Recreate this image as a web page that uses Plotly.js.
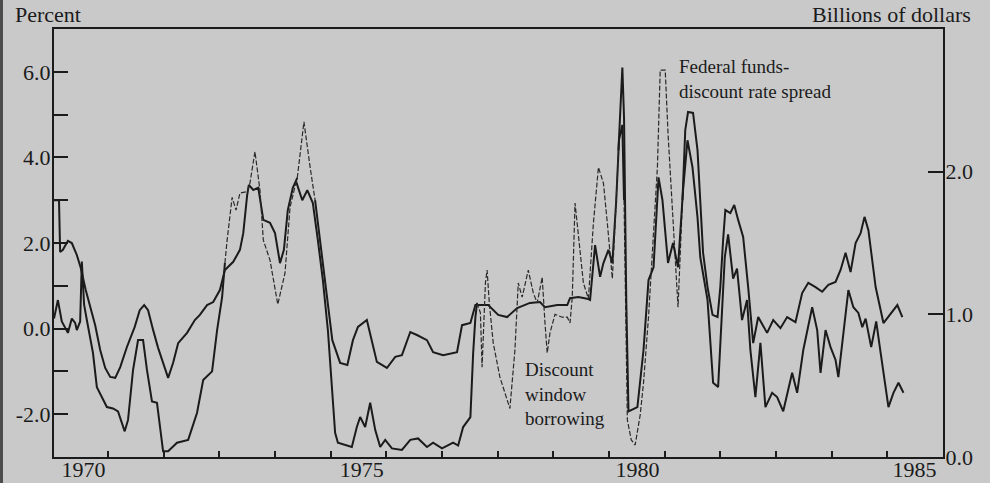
<!DOCTYPE html>
<html><head><meta charset="utf-8">
<script src="https://cdn.plot.ly/plotly-3.0.1.min.js"></script>
<style>html,body{margin:0;padding:0;background:#c9c9c9;} #chart{width:990px;height:483px;}</style>
</head><body><div id="chart"></div>
<script>
// Federal funds - discount rate spread (percent, left axis)
const spreadYears = [1970.03,1970.12,1970.14,1970.19,1970.28,1970.35,1970.44,1970.51,1970.60,1970.69,
1970.77,1970.86,1970.95,1971.04,1971.13,1971.22,1971.34,1971.48,1971.57,1971.65,
1971.72,1971.81,1971.90,1971.99,1972.08,1972.17,1972.26,1972.42,1972.56,1972.65,
1972.78,1972.89,1973.01,1973.10,1973.25,1973.37,1973.43,1973.50,1973.53,1973.61,
1973.70,1973.79,1973.91,1974.00,1974.09,1974.16,1974.23,1974.32,1974.40,1974.45,
1974.52,1974.63,1974.72,1974.81,1974.92,1975.03,1975.17,1975.30,1975.40,1975.49,
1975.65,1975.83,1976.01,1976.16,1976.28,1976.43,1976.55,1976.73,1976.84,1977.02,
1977.27,1977.36,1977.51,1977.60,1977.69,1977.83,1978.01,1978.17,1978.35,1978.58,
1978.76,1978.85,1979.07,1979.25,1979.30,1979.45,1979.63,1979.66,1979.75,1979.84,
1979.90,1979.99,1980.06,1980.13,1980.18,1980.24,1980.27,1980.33,1980.40,1980.47,
1980.56,1980.62,1980.71,1980.80,1980.87,1980.92,1981.01,1981.06,1981.14,1981.19,
1981.24,1981.32,1981.37,1981.42,1981.51,1981.59,1981.64,1981.69,1981.77,1981.86,
1981.95,1982.00,1982.05,1982.09,1982.18,1982.25,1982.32,1982.41,1982.50,1982.59,
1982.68,1982.84,1982.95,1983.08,1983.20,1983.35,1983.47,1983.58,1983.71,1983.83,
1983.94,1984.07,1984.16,1984.25,1984.34,1984.43,1984.52,1984.59,1984.66,1984.79,
1984.93,1985.06,1985.18,1985.27];
const spreadPct = [3.00,3.00,1.79,1.84,2.05,2.00,1.72,1.42,0.90,0.43,
0.08,-0.50,-0.92,-1.13,-1.15,-0.90,-0.43,0.04,0.43,0.55,
0.43,-0.03,-0.45,-0.80,-1.15,-0.80,-0.34,-0.10,0.20,0.32,
0.55,0.62,0.90,1.37,1.56,1.84,2.23,3.12,3.36,3.24,
3.29,2.54,2.47,2.23,1.53,1.84,2.77,3.29,3.52,4.13,
4.83,3.78,3.00,2.02,0.79,-0.27,-0.80,-0.85,-0.27,0.04,
0.20,-0.78,-0.92,-0.66,-0.62,-0.08,-0.15,-0.27,-0.55,-0.62,
-0.55,0.08,0.13,0.55,0.55,0.55,0.32,0.27,0.48,0.60,
0.62,0.50,0.55,0.55,0.71,0.74,0.69,0.67,1.95,1.21,
1.53,1.84,1.53,3.00,4.41,4.76,3.00,-2.14,-2.60,-2.72,
-2.02,-1.27,0.27,2.23,3.78,6.04,6.04,4.57,2.77,1.84,
0.50,3.00,4.64,5.06,5.04,4.17,3.00,1.77,0.97,0.32,
0.27,0.97,2.07,2.77,2.70,2.89,2.54,2.14,0.97,-0.34,
0.27,-0.10,0.20,0.01,0.27,0.15,0.83,1.07,0.97,0.86,
1.02,1.09,1.37,1.77,1.32,2.00,2.23,2.61,2.30,0.97,
0.13,0.36,0.55,0.27];

// Discount window borrowing (billions of dollars, right axis)
const borrowYears = [1970.03,1970.10,1970.17,1970.23,1970.28,1970.35,1970.41,1970.44,1970.50,1970.53,
1970.57,1970.62,1970.73,1970.80,1970.91,1970.98,1971.09,1971.18,1971.30,1971.36,
1971.45,1971.54,1971.63,1971.70,1971.79,1971.88,1971.99,1972.08,1972.24,1972.44,
1972.60,1972.71,1972.87,1972.92,1972.96,1973.05,1973.10,1973.14,1973.23,1973.30,
1973.37,1973.50,1973.55,1973.64,1973.73,1973.79,1973.91,1974.05,1974.18,1974.27,
1974.38,1974.49,1974.58,1974.68,1974.77,1974.86,1974.95,1975.03,1975.08,1975.13,
1975.30,1975.38,1975.47,1975.53,1975.62,1975.71,1975.80,1975.89,1975.98,1976.10,
1976.28,1976.43,1976.57,1976.73,1976.84,1977.00,1977.20,1977.29,1977.38,1977.51,
1977.56,1977.60,1977.63,1977.69,1977.72,1977.78,1977.81,1977.85,1977.92,1978.04,
1978.22,1978.31,1978.37,1978.44,1978.55,1978.64,1978.71,1978.80,1978.85,1978.89,
1978.94,1979.03,1979.16,1979.25,1979.30,1979.34,1979.39,1979.45,1979.54,1979.63,
1979.72,1979.81,1979.90,1979.97,1980.06,1980.11,1980.17,1980.24,1980.27,1980.31,
1980.35,1980.51,1980.62,1980.71,1980.80,1980.89,1980.96,1981.01,1981.06,1981.15,
1981.24,1981.33,1981.41,1981.50,1981.59,1981.64,1981.77,1981.87,1981.96,1982.08,
1982.14,1982.23,1982.30,1982.39,1982.48,1982.54,1982.63,1982.72,1982.81,1982.93,
1983.02,1983.13,1983.29,1983.38,1983.49,1983.65,1983.74,1983.80,1983.89,1983.98,
1984.07,1984.12,1984.21,1984.30,1984.39,1984.48,1984.55,1984.61,1984.71,1984.80,
1984.88,1985.02,1985.11,1985.20,1985.29];
const borrowBn = [0.97,1.10,0.95,0.91,0.87,0.97,0.94,0.89,0.95,1.37,
1.07,0.96,0.73,0.49,0.40,0.35,0.34,0.32,0.18,0.26,
0.61,0.82,0.82,0.61,0.39,0.38,0.04,0.04,0.10,0.12,
0.31,0.54,0.60,0.79,0.89,1.12,1.36,1.52,1.82,1.73,
1.85,1.86,1.92,2.14,1.87,1.52,1.38,1.07,1.29,1.75,
1.93,1.80,1.87,1.78,1.52,1.24,0.89,0.47,0.17,0.10,
0.08,0.07,0.21,0.28,0.21,0.38,0.19,0.07,0.12,0.06,
0.05,0.12,0.13,0.07,0.10,0.06,0.10,0.08,0.21,0.28,
0.73,0.98,1.08,1.01,0.63,1.22,1.31,1.08,0.80,0.56,
0.34,0.75,1.22,1.12,1.31,1.15,1.08,1.26,0.94,0.73,
0.87,1.00,0.98,0.98,0.94,1.12,1.78,1.54,1.22,1.11,
1.64,2.03,1.92,1.64,1.25,1.64,2.15,2.73,2.38,1.10,
0.32,0.35,0.75,1.24,1.33,1.96,1.80,1.57,1.36,1.50,
1.33,1.87,2.22,2.03,1.68,1.40,1.10,0.52,0.49,1.40,
1.56,1.25,1.32,0.96,1.10,0.75,0.42,0.80,0.35,0.45,
0.42,0.32,0.59,0.45,0.75,1.05,0.89,0.59,0.89,0.77,
0.68,0.56,0.87,1.17,1.05,1.01,0.91,0.97,0.77,0.95,
0.73,0.35,0.45,0.52,0.45];

const yearTicks = [1971,1972,1973,1974,1975,1976,1977,1978,1979,1980,1981,1982,1983,1984,1985];
const labelYears = [1970.56,1975.56,1980.51,1985.49];
const labelText = ['1970','1975','1980','1985'];
const pctTicks = [-2,-1,0,1,2,3,4,5,6];
const pctTickText = ['-2.0','','0.0','','2.0','','4.0','','6.0'];
const bnTicks = [0,1,2];
const bnTickText = ['0.0','1.0','2.0'];

// year spans drawn as thin broken lines
const spreadDashed = [[1974.40,1974.72],[1980.27,1981.32]];
const borrowDashed = [[1973.10,1974.38],[1977.63,1980.17]];

function split(xs, ys, ranges){
  const inside = x => ranges.some(r => x > r[0] && x < r[1]);
  const within = x => ranges.some(r => x >= r[0] && x <= r[1]);
  return {
    solid: ys.map((y,i) => inside(xs[i]) ? null : y),
    dashed: ys.map((y,i) => within(xs[i]) ? y : null)
  };
}
const ink = '#1b1b1b';
const sp = split(spreadYears, spreadPct, spreadDashed);
const bw = split(borrowYears, borrowBn, borrowDashed);
const solidLine = {color: ink, width: 2};
const thinLine = {color: '#2a2a2a', width: 1.2, dash: '5px,2px'};

const traces = [
  {x: spreadYears, y: sp.solid, yaxis: 'y', mode: 'lines', line: solidLine, connectgaps: false, name: 'Federal funds-discount rate spread'},
  {x: spreadYears, y: sp.dashed, yaxis: 'y', mode: 'lines', line: thinLine, connectgaps: false, name: 'spread (thin)'},
  {x: borrowYears, y: bw.solid, yaxis: 'y2', mode: 'lines', line: solidLine, connectgaps: false, name: 'Discount window borrowing'},
  {x: borrowYears, y: bw.dashed, yaxis: 'y2', mode: 'lines', line: thinLine, connectgaps: false, name: 'borrowing (thin)'},
  {x: labelYears, y: labelYears.map(() => null), xaxis: 'x2', yaxis: 'y', mode: 'lines', hoverinfo: 'skip', showlegend: false}
];

const fam = 'Liberation Serif, Times New Roman, serif';
const axisFont = {family: fam, size: 22, color: ink};
const layout = {
  width: 990, height: 483,
  margin: {l: 54, r: 47, t: 29, b: 26, pad: 0},
  paper_bgcolor: '#c9c9c9', plot_bgcolor: '#c9c9c9',
  showlegend: false,
  font: axisFont,
  xaxis: {range: [1970.03, 1986.0], tickvals: yearTicks, ticks: 'inside', ticklen: 6, tickwidth: 2, tickcolor: ink,
          showticklabels: false, showline: true, linewidth: 2, linecolor: ink, mirror: true,
          showgrid: false, zeroline: false},
  xaxis2: {overlaying: 'x', anchor: 'y', side: 'bottom', range: [1970.03, 1986.0], tickvals: labelYears, ticktext: labelText,
           ticks: '', showline: false, showgrid: false, zeroline: false, tickfont: axisFont, ticklabelstandoff: -3},
  yaxis: {range: [-3, 7], tickvals: pctTicks, ticktext: pctTickText, ticks: 'inside', ticklen: 14, tickwidth: 2, tickcolor: ink,
          showline: true, linewidth: 2, linecolor: ink, showgrid: false, zeroline: false, tickfont: axisFont, ticklabelstandoff: -3},
  yaxis2: {overlaying: 'y', side: 'right', anchor: 'x', range: [0, 3.0], tickvals: bnTicks, ticktext: bnTickText,
           ticks: 'inside', ticklen: 15, tickwidth: 2, tickcolor: ink, showline: true, linewidth: 2, linecolor: ink,
           showgrid: false, zeroline: false, tickfont: axisFont, ticklabelstandoff: -4},
  shapes: [
    {type: 'rect', xref: 'paper', yref: 'paper', x0: -0.0607, x1: -0.0574, y0: -0.07, y1: 1.08, fillcolor: '#4a4a4a', line: {width: 0}, layer: 'above'}
  ],
  annotations: [
    {text: 'Percent', xref: 'paper', yref: 'paper', x: -0.0461, y: 1.035, xanchor: 'left', yanchor: 'middle', showarrow: false, font: {family: fam, size: 22, color: ink}},
    {text: 'Billions of dollars', xref: 'paper', yref: 'paper', x: 1.0337, y: 1.035, xanchor: 'right', yanchor: 'middle', showarrow: false, font: {family: fam, size: 22, color: ink}},
    {text: 'Federal funds-<br>discount rate spread', xref: 'paper', yref: 'paper', x: 0.7008, y: 0.8843, xanchor: 'left', yanchor: 'middle', align: 'left', showarrow: false, font: {family: fam, size: 19, color: ink}},
    {text: 'Discount<br>window<br>borrowing', xref: 'paper', yref: 'paper', x: 0.5276, y: 0.1472, xanchor: 'left', yanchor: 'middle', align: 'left', showarrow: false, font: {family: fam, size: 19, color: ink}}
  ]
};
Plotly.newPlot('chart', traces, layout, {staticPlot: true, displayModeBar: false});
</script></body></html>
